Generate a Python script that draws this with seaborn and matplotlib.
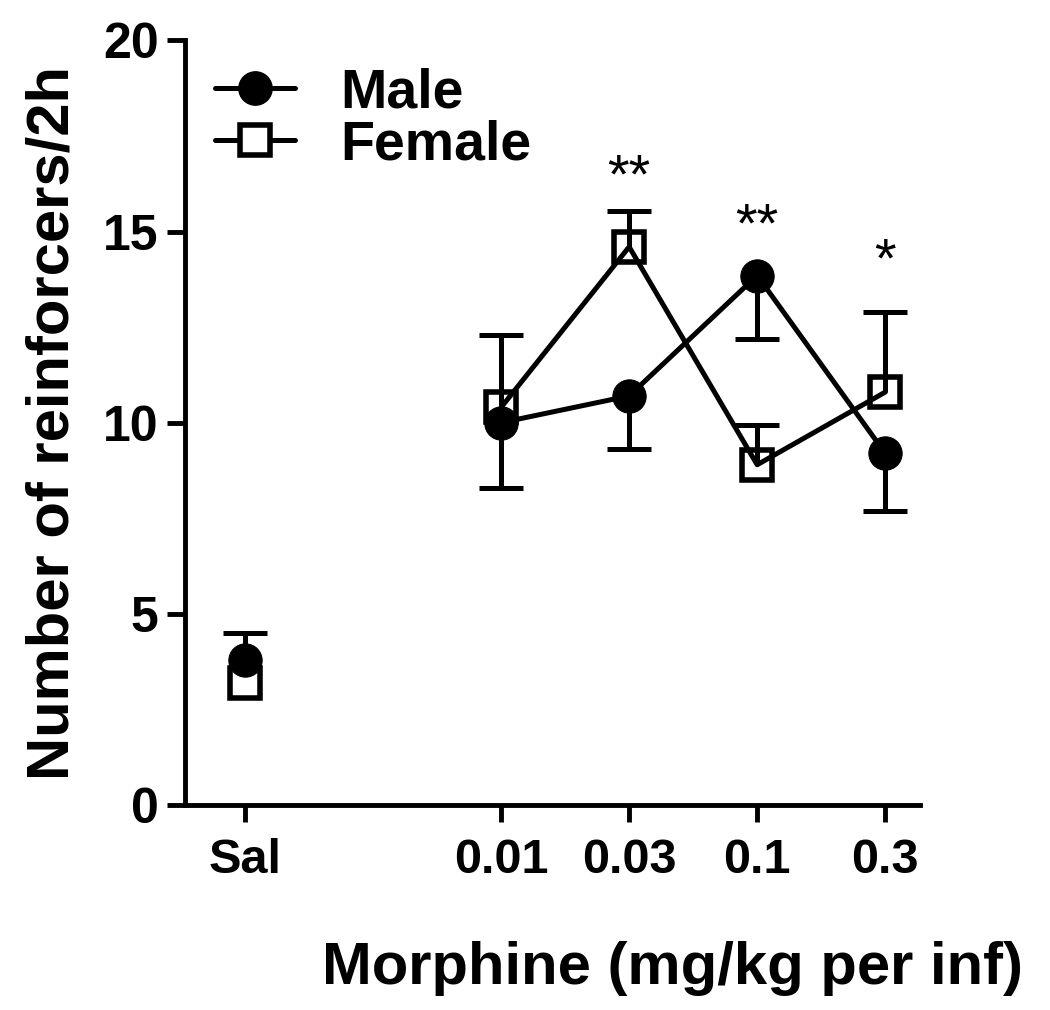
import numpy as np
import pandas as pd
import matplotlib.pyplot as plt
import seaborn as sns
from matplotlib.lines import Line2D

doses = ["Sal", "0.01", "0.03", "0.1", "0.3"]
dose_pos = [0, 2, 3, 4, 5]
segment = ["sal", "drug", "drug", "drug", "drug"]

male_mean = [3.8, 10.0, 10.7, 13.85, 9.2]
male_err_lo = [0.0, 1.7, 1.4, 1.65, 1.5]
male_err_hi = [0.7, 0.0, 0.0, 0.0, 0.0]

female_mean = [3.2, 10.4, 14.6, 8.9, 10.8]
female_err_lo = [0.0, 0.0, 0.0, 0.0, 0.0]
female_err_hi = [0.0, 1.9, 0.95, 1.05, 2.1]

stars = ["", "", "**", "**", "*"]
star_y = [0, 0, 16.4, 15.1, 14.2]

sns.set_theme(style="white")
plt.rcParams["font.family"] = ["Liberation Sans", "DejaVu Sans"]
plt.rcParams["font.weight"] = "bold"
for k in ["text.color", "axes.labelcolor", "xtick.color", "ytick.color", "axes.edgecolor"]:
    plt.rcParams[k] = "black"

df = pd.DataFrame({
    "pos": dose_pos * 2,
    "val": male_mean + female_mean,
    "sex": ["Male"] * 5 + ["Female"] * 5,
    "seg": segment * 2,
})

fig = plt.figure(figsize=(10.5, 10.1), dpi=100)
ax = fig.add_axes([0.176, 0.203, 0.700, 0.757])

lw = 3.6
ms = 24


def one_sided(x, mean, err, upper):
    x = np.asarray(x, float)
    mean = np.asarray(mean, float)
    err = np.asarray(err, float)
    keep = err > 0
    if not keep.any():
        return
    z = np.zeros(keep.sum())
    yerr = [z, err[keep]] if upper else [err[keep], z]
    _, caps, _ = ax.errorbar(x[keep], mean[keep], yerr=yerr, fmt="none", ecolor="black",
                             elinewidth=lw, capsize=16, capthick=lw, zorder=2)
    # hide the cap sitting on the mean
    caps[0 if upper else 1].set_visible(False)


one_sided(dose_pos, female_mean, female_err_hi, True)
one_sided(dose_pos, female_mean, female_err_lo, False)
one_sided(dose_pos, male_mean, male_err_hi, True)
one_sided(dose_pos, male_mean, male_err_lo, False)

sns.lineplot(data=df[df.sex == "Female"], x="pos", y="val", units="seg", estimator=None,
             color="black", lw=lw, marker="s", ms=ms - 2, mfc="none", mec="black", mew=4,
             ax=ax, zorder=3)
sns.lineplot(data=df[df.sex == "Male"], x="pos", y="val", units="seg", estimator=None,
             color="black", lw=lw, marker="o", ms=ms, mfc="black", mec="black",
             ax=ax, zorder=4)

for p, s, y in zip(dose_pos, stars, star_y):
    if s:
        ax.text(p, y, s, ha="center", va="center", fontsize=40, fontweight="normal")

ax.set_xlim(-0.47, 5.27)
ax.set_ylim(0, 20)
ax.set_yticks([0, 5, 10, 15, 20])
ax.set_xticks(dose_pos)
ax.set_xticklabels(doses, fontsize=35, fontweight="bold")
ax.tick_params(axis="y", labelsize=36, width=3.5, length=13, direction="out", left=True, pad=6)
ax.tick_params(axis="x", width=3.5, length=12, direction="out", bottom=True, pad=12)
for t in ax.get_yticklabels():
    t.set_fontweight("bold")

sns.despine(ax=ax)
ax.spines["left"].set_linewidth(3.5)
ax.spines["bottom"].set_linewidth(3.5)

ax.set_ylabel("Number of reinforcers/2h", fontsize=43, fontweight="bold", labelpad=16)
ax.set_xlabel("Morphine (mg/kg per inf)", fontsize=43, fontweight="bold")
ax.xaxis.set_label_coords(0.663, -0.178)

handles = [
    Line2D([], [], color="black", lw=lw, marker="o", ms=ms, mfc="black"),
    Line2D([], [], color="black", lw=lw, marker="s", ms=ms - 2, mfc="white", mec="black", mew=4),
]
ax.legend(handles, ["Male", "Female"], loc="upper left", frameon=False,
          handlelength=1.45, handletextpad=0.8, labelspacing=0.0, borderpad=0.2,
          bbox_to_anchor=(-0.012, 1.016), prop={"weight": "bold", "size": 40})

fig.savefig("out.png", dpi=100, facecolor="white")
